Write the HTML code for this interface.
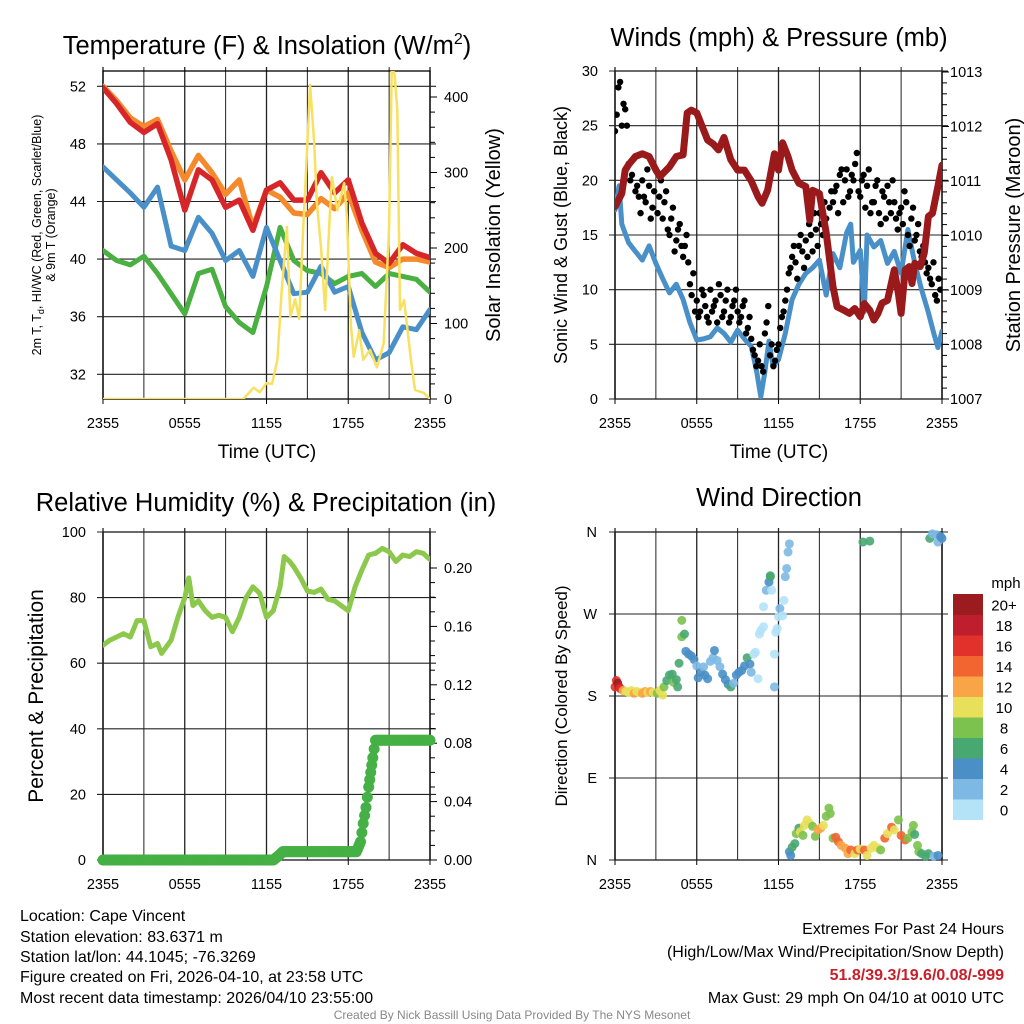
<!DOCTYPE html>
<html><head><meta charset="utf-8"><style>
html,body{margin:0;padding:0;background:#fff}
svg{display:block;font-family:"Liberation Sans",sans-serif}
</style></head><body>
<svg id="s" width="1024" height="1024" viewBox="0 0 1024 1024" xmlns="http://www.w3.org/2000/svg">
<defs>
<clipPath id="c1"><rect x="103" y="71" width="327" height="328"/></clipPath>
<clipPath id="c2"><rect x="615" y="71" width="327" height="328"/></clipPath>
<clipPath id="c3"><rect x="103" y="532" width="327" height="328"/></clipPath>
<clipPath id="c4"><rect x="610" y="525" width="340" height="340"/></clipPath>
</defs>
<g font-size="25.5" text-anchor="middle" fill="#000">
<text x="267" y="54">Temperature (F) &amp; Insolation (W/m<tspan dy="-10" font-size="16">2</tspan><tspan dy="10">)</tspan></text>
<text x="779" y="46">Winds (mph) &amp; Pressure (mb)</text>
<text x="266" y="511">Relative Humidity (%) &amp; Precipitation (in)</text>
<text x="779" y="506">Wind Direction</text>
</g>
<g font-size="19" text-anchor="middle">
<text x="267" y="458">Time (UTC)</text>
<text x="779" y="458">Time (UTC)</text>
<text transform="translate(500,235) rotate(-90)" font-size="20">Solar Insolation (Yellow)</text>
<text transform="translate(567,235) rotate(-90)" font-size="18">Sonic Wind &amp; Gust (Blue, Black)</text>
<text transform="translate(1020,235) rotate(-90)" font-size="20">Station Pressure (Maroon)</text>
<text transform="translate(43,696) rotate(-90)" font-size="21">Percent &amp; Precipitation</text>
<text transform="translate(567,696) rotate(-90)" font-size="17">Direction (Colored By Speed)</text>
<text transform="translate(41,235) rotate(-90)" font-size="12.5">2m T, T<tspan font-size="9" dy="3">d</tspan><tspan dy="-3">, HI/WC (Red, Green, Scarlet/Blue)</tspan></text>
<text transform="translate(55,235) rotate(-90)" font-size="12.5">&amp; 9m T (Orange)</text>
</g>
<g font-size="16" fill="#000">
<text x="20" y="921">Location: Cape Vincent</text>
<text x="20" y="942">Station elevation: 83.6371 m</text>
<text x="20" y="962">Station lat/lon: 44.1045; -76.3269</text>
<text x="20" y="982">Figure created on Fri, 2026-04-10, at 23:58 UTC</text>
<text x="20" y="1003">Most recent data timestamp: 2026/04/10 23:55:00</text>
</g>
<g font-size="16" text-anchor="end">
<text x="1004" y="934">Extremes For Past 24 Hours</text>
<text x="1004" y="957">(High/Low/Max Wind/Precipitation/Snow Depth)</text>
<text x="1004" y="980" fill="#c8202a" font-weight="bold">51.8/39.3/19.6/0.08/-999</text>
<text x="1004" y="1003">Max Gust: 29 mph On 04/10 at 0010 UTC</text>
</g>
<text x="512" y="1019" font-size="12" fill="#888" text-anchor="middle">Created By Nick Bassill Using Data Provided By The NYS Mesonet</text>
</svg>
<script>
// ---- data ----
const xTickLabels = ["2355","0555","1155","1755","2355"];
const tempTicks = [32,36,40,44,48,52];
const solarTicks = [0,100,200,300,400];
const windTicks = [0,5,10,15,20,25,30];
const presTicks = [1007,1008,1009,1010,1011,1012,1013];
const rhTicks = [0,20,40,60,80,100];
const precTicks = [0,0.04,0.08,0.12,0.16,0.20];
const dirTicks = [0,90,180,270,360];
const dirLabels = ["N","E","S","W","N"];
const hourly = [0,1,2,3,4,5,6,7,8,9,10,11,12,13,14,15,16,17,18,19,20,21,22,23,24];
const tempRed = [51.9,50.8,49.5,48.8,49.4,46.9,43.4,46.2,45.5,43.6,44.1,42.0,44.8,45.3,44.1,44.1,46.0,44.6,45.5,42.5,40.4,39.7,41.0,40.4,40.1];
const tempOrange = [52.0,51.0,49.8,49.2,49.7,47.5,45.5,47.2,46.0,44.5,45.5,42.2,44.8,44.3,43.2,43.1,44.2,43.5,44.6,42.0,39.8,39.4,40.0,40.0,39.8];
const tempBlue = [46.4,45.5,44.6,43.6,45.0,40.9,40.6,42.9,41.8,39.9,40.6,38.8,42.2,39.9,37.6,37.7,39.5,37.7,38.1,34.9,33.0,33.5,35.3,35.1,36.5];
const tempGreen = [40.6,39.9,39.6,40.2,39.0,37.6,36.2,39.0,39.3,36.7,35.6,34.9,38.1,42.2,39.9,39.2,39.0,38.3,38.8,39.0,38.1,39.0,38.8,38.6,37.7];
const solarHours = [0,10.3,11.05,11.5,12.0,12.4,12.8,13.1,13.5,13.75,14.1,14.4,14.7,15.0,15.2,15.5,15.7,16.0,16.3,16.6,16.8,17.2,17.7,17.9,18.2,18.4,18.8,19.1,19.6,20.1,20.6,21.0,21.2,21.4,21.6,21.8,22.1,22.6,22.9,23.55,24];
const solarVals = [0,0,15,9,21,20,52,140,228,109,132,106,228,339,416,339,259,201,118,228,294,250,286,241,96,56,91,52,65,42,74,228,440,430,383,118,131,52,12,8,0];
const windHours = [0,0.3,0.5,1,1.5,2,2.5,3,3.5,4,4.5,5,5.5,6,6.5,7,7.5,8,8.5,9,9.5,10,10.4,10.7,11,11.3,11.6,12,12.5,13,13.5,14,14.5,15,15.5,16,16.5,17,17.3,17.5,18,18.3,18.5,19,19.5,20,20.5,21,21.5,22,22.5,23,23.4,23.7,24];
const windVals = [17.3,19.5,16,14.3,13.5,12.7,14,12.4,11,9.7,10.5,9.1,7,5.4,5.5,5.7,6.5,6.0,5.2,6.3,5.5,4.8,2.5,0.2,2.5,5.3,3,3.6,6,9.1,10.5,11.5,12,12.7,9.5,13.3,12,15.2,16,12.5,13.6,8,15,13.9,14.5,12.4,13.5,11.5,15.5,12.4,10,7.9,6,4.7,6.2];
const gustVals = [24.5,28.5,25,26.5,21.5,20.5,19,18.5,20,18,19.5,17.5,21,18.5,16.5,19,15,17.5,14.5,16,13,15,10.5,11.5,9,8,9.5,7.5,10,8.5,7,9.5,8,10,7.5,9,8,7.5,9,6.5,5.5,4,3.5,3,6,8.5,5,3.5,5,7.5,9,11.5,13,12.5,14,13.5,14.5,16,13.5,15.5,17,15,16.5,17.5,18,19.5,20.5,18,21,19,20,22.5,18.5,20.5,19.5,17,18,20,16,18.5,19.5,17,18,15.5,17.5,19,15,16.5,14.5,16,13,12.5,12,10.5,9.5,11,10];
const gustVals2 = [26,29,27,25,20,22,19.5,17,18.5,21,16.5,19,17,20,18,15.5,16.5,13.5,15.5,14,14,12.5,9.5,8,7.5,10,8.5,7,8,9,10.5,7.5,9,7,8.5,10,7,8.5,6,7.5,4.5,3,5,2.5,7,4,3,4.5,6.5,8,10,12,14,11,15,12,13,15,17,14,16,18,14,19,19,17,21,20,18.5,20.5,21.5,19,20,17.5,21,18,19.5,17,19,16.5,18,20,16.5,17,16,18,14,17.5,15,13.5,14,11.5,11,12.5,9,10];
const presHours = [0,0.5,0.75,1,1.5,2,2.5,3,3.3,4,4.5,5,5.3,5.6,6,6.4,6.8,7.2,7.6,8,8.5,9,9.5,10,10.5,10.8,11.2,11.7,12,12.3,12.7,13,13.5,14,14.3,14.5,15,15.5,16,16.3,16.8,17.2,17.6,18,18.3,18.7,19,19.3,19.6,20,20.5,20.8,21,21.3,21.6,21.8,22,22.4,22.7,23,23.3,23.7,24];
const presVals = [1010.53,1010.77,1011.2,1011.3,1011.45,1011.5,1011.45,1011.2,1011.08,1011.26,1011.45,1011.48,1012.25,1012.3,1012.25,1012.0,1011.75,1011.68,1011.57,1011.8,1011.39,1011.2,1011.2,1011.0,1010.71,1010.59,1010.83,1011.5,1011.2,1011.7,1011.45,1011.2,1010.96,1010.9,1010.28,1010.83,1010.77,1010.05,1009.06,1008.69,1008.63,1008.57,1008.66,1008.51,1008.75,1008.63,1008.45,1008.57,1008.76,1008.81,1009.37,1008.93,1008.57,1009.37,1009.43,1009.12,1009.49,1009.43,1009.68,1010.35,1010.41,1010.9,1011.29];
const rhHours = [0,0.5,1,1.5,2,2.5,3,3.5,4,4.3,5,5.5,6,6.3,6.6,7,7.5,8,8.5,9,9.5,10,10.5,11,11.5,12,12.5,13,13.3,13.7,14,14.5,15,15.5,16,16.5,17,17.5,18,18.5,19,19.5,20,20.5,21,21.5,22,22.5,23,23.5,24];
const rhVals = [65.5,67,68,69,68,73,73,65,66,63,67,74,80,86,77.6,79,76,74,74.6,74,69.6,74,80,83.3,81.3,74,76,83.3,92.5,91,89.4,86,82,81.6,82.6,79.5,79,77.5,76,83.3,88.4,93,93.5,95,94,91,93,92.5,94,93.5,91.6];
const precHours = [0,12.5,12.9,13.2,18.6,18.9,19.1,19.3,19.5,19.65,19.8,20.0,24];
const precVals = [0,0,0.003,0.0057,0.0057,0.0125,0.025,0.036,0.05,0.06,0.07,0.082,0.082];
const dirHours = [0.0,0.1,0.2,0.3,0.4,0.6,0.8,1.0,1.2,1.4,1.6,1.8,2.0,2.2,2.4,2.6,2.8,3.1,3.3,3.5,3.6,3.8,4.0,4.2,4.3,4.5,4.6,4.7,4.9,4.9,5.1,5.2,5.4,5.6,5.8,6.0,6.1,6.3,6.5,6.6,6.8,7.0,7.2,7.3,7.5,7.7,7.9,8.1,8.3,8.5,8.7,8.9,9.1,9.3,9.5,9.7,9.9,10.0,10.2,10.3,10.5,10.6,10.7,10.9,10.9,11.1,11.3,11.4,11.4,11.5,11.7,11.7,11.8,11.9,12.0,12.1,12.3,12.4,12.5,12.6,12.7,12.8,
 12.8,12.9,13.0,13.2,13.3,13.5,13.6,13.8,13.9,14.1,14.3,14.5,14.7,14.9,15.1,15.3,15.5,15.7,15.8,16.0,16.2,16.4,16.6,16.9,17.1,17.3,17.6,17.8,18.0,18.3,18.5,18.8,19.0,19.3,19.5,19.8,20.0,20.3,20.5,20.8,21.0,21.3,21.5,21.8,21.9,22.0,22.2,22.3,22.5,22.8,23.0,23.4,23.7,
 18.2,18.7,23.1,23.3,23.6,23.7,23.9,24.0];
const dirDegs = [190,197,194,190,188,186,185,184,186,183,185,184,183,185,184,185,184,183,186,181,190,197,203,204,195,198,190,216,263,245,248,229,226,224,220,213,200,206,212,203,199,218,222,230,219,212,204,198,193,190,194,203,206,208,213,222,215,206,226,228,199,248,252,256,278,296,305,311,312,296,226,190,250,254,267,276,268,285,311,320,338,347,
 9,5,14,18,29,35,31,27,38,44,40,37,26,33,35,38,48,57,51,24,25,20,16,13,7,11,7,11,12,11,5,13,16,13,11,24,29,36,33,44,27,22,24,31,38,28,16,9,7,4,7,4,5,
 349,350,353,358,357,349,355,353];
const dirSpeeds = [17,17,20,19,17,13,11,11,11,13,11,11,13,13,11,13,11,9,11,11,9,7,7,7,9,7,7,7,9,9,7,5,5,5,5,3,5,5,3,5,5,3,3,5,3,3,5,5,5,7,3,5,5,5,5,7,5,3,1.5,1.5,0.5,1.5,1.5,1.5,1.5,3,5,7,7,1.5,1.5,3,1.5,1.5,1.5,3,1.5,1.5,3,3,3,3,
 5,5,7,7,9,7,11,9,11,11,11,9,9,13,13,11,9,9,9,9,15,15,13,13,13,15,11,15,11,15,11,11,11,11,9,15,11,15,11,9,15,15,9,9,9,7,9,9,7,7,7,3,5,
 7,7,7,3,3,3,5,5];
const cbLabels = ["0","2","4","6","8","10","12","14","16","18","20+"];
const cbColors = ["#b4e2f7","#7db9e4","#4a8fc6","#48a871","#7bc24e","#e8e05a","#f9a446","#f26430","#e0312a","#bf1e2e","#9b1b1e"];

// ---- helpers ----
const NS="http://www.w3.org/2000/svg";
const svg=document.getElementById('s');
function mk(tag,attrs,parent){const e=document.createElementNS(NS,tag);for(const k in attrs)e.setAttribute(k,attrs[k]);(parent||svg).appendChild(e);return e;}
function lin(d0,d1,r0,r1){return v=>r0+(v-d0)*(r1-r0)/(d1-d0);}

const P1={x0:103,x1:430,y0:71,y1:399};
const P2={x0:615,x1:942,y0:71,y1:399};
const P3={x0:103,x1:430,y0:532,y1:860};
const P4={x0:615,x1:942,y0:532,y1:860};
const xs1=lin(0,24,P1.x0,P1.x1), xs2=lin(0,24,P2.x0,P2.x1);
const yTemp=lin(52,32,86.3,374.3), ySolar=lin(0,400,399,97);
const yWind=lin(0,30,399,71), yPres=lin(1007,1013,399,72);
const yRH=lin(0,100,860,532), yPrec=lin(0,0.2,860,568);
const yDir=lin(0,360,860,532);

function frame(P,name,xs){
  const g=mk('g',{});
  
  
  for(let h=0;h<=24;h+=3){const x=xs(h);
    const l=mk('line',{x1:x,x2:x,y1:P.y0-4,y2:P.y1,stroke:'#222','stroke-width':h%6===0?1.3:1},g);
    
    }
  const r=mk('rect',{x:P.x0,y:P.y0,width:P.x1-P.x0,height:P.y1-P.y0,fill:'none',stroke:'#000','stroke-width':1.3},g);
  
  
  xTickLabels.forEach((t,i)=>{const x=xs(i*6);
    mk('line',{x1:x,x2:x,y1:P.y1,y2:P.y1+5,stroke:'#000'},g);
    const tx=mk('text',{x:x,y:P.y1+29,'font-size':14.5,'text-anchor':'middle'},g);tx.textContent=t;
    
    });
  return g;
}
function hgrid(P,vals,ys,g){vals.forEach(v=>{const y=ys(v);const l=mk('line',{x1:P.x0-6,x2:P.x1+6,y1:y,y2:y,stroke:'#222','stroke-width':1.1},g);
  
  });}
function yLabels(vals,ys,x,anchor,fmt,name){vals.forEach(v=>{const t=mk('text',{x:x,y:ys(v)+5,'font-size':14.5,'text-anchor':anchor});t.textContent=fmt(v);
  
  });}
function minor(P,vals,ys,step){for(let i=0;i<vals.length-1;i++){for(let v=vals[i]+step;v<vals[i+1]-step/2;v+=step){const y=ys(v);mk('line',{x1:P.x1,x2:P.x1+5,y1:y,y2:y,stroke:'#000'});}}}
function path(xh,yv,xs,ys,color,w,clip,name){
  let d='';xh.forEach((h,i)=>{d+=(i?'L':'M')+xs(h).toFixed(1)+','+ys(yv[i]).toFixed(1);});
  const p=mk('path',{d:d,fill:'none',stroke:color,'stroke-width':w,'stroke-linejoin':'round','stroke-linecap':'round','clip-path':'url(#'+clip+')'});
  
  
  return p;
}

// ---- panel 1 ----
const g1=frame(P1,'temp-panel',xs1);hgrid(P1,tempTicks,yTemp,g1);
yLabels(tempTicks,yTemp,86,'end',v=>v,'temp-tick-label');
yLabels(solarTicks,ySolar,444,'start',v=>v,'solar-tick-label');
solarTicks.forEach(v=>{const y=ySolar(v);mk('line',{x1:P1.x1,x2:P1.x1+7,y1:y,y2:y,stroke:'#000'});});
minor(P1,solarTicks,ySolar,20);
path(hourly,tempOrange,xs1,yTemp,'#f58a2c',5.5,'c1','series-9m-temp');
path(hourly,tempRed,xs1,yTemp,'#d6262a',5.5,'c1','series-2m-temp');
path(hourly,tempGreen,xs1,yTemp,'#4bb042',5,'c1','series-dewpoint');
path(hourly,tempBlue,xs1,yTemp,'#4a90c8',5,'c1','series-windchill');
path(solarHours,solarVals,xs1,ySolar,'#f8e060',2.5,'c1','series-solar');

// ---- panel 2 ----
const g2=frame(P2,'winds-panel',xs2);hgrid(P2,windTicks,yWind,g2);
yLabels(windTicks,yWind,598,'end',v=>v,'wind-tick-label');
yLabels(presTicks,yPres,950,'start',v=>v,'pressure-tick-label');
presTicks.forEach(v=>{const y=yPres(v);mk('line',{x1:P2.x1,x2:P2.x1+7,y1:y,y2:y,stroke:'#000'});});
minor(P2,presTicks,yPres,0.2);
path(windHours,windVals,xs2,yWind,'#4a90c8',5,'c2','series-wind-speed');
const gg=mk('g',{'clip-path':'url(#c2)'});


gustVals.forEach((v,i)=>{const c=mk('circle',{cx:xs2(i*0.25),cy:yWind(v),r:3.2,fill:'#000'},gg);
  
  });
gustVals2.forEach((v,i)=>{const c=mk('circle',{cx:xs2(i*0.25+0.125),cy:yWind(v),r:3.2,fill:'#000'},gg);
  
  });
path(presHours,presVals,xs2,yPres,'#9a1a1c',7,'c2','series-pressure');

// ---- panel 3 ----
const g3=frame(P3,'humidity-panel',xs1);hgrid(P3,rhTicks,yRH,g3);
yLabels(rhTicks,yRH,86,'end',v=>v,'rh-tick-label');
yLabels(precTicks,yPrec,444,'start',v=>v.toFixed(2),'precip-tick-label');
precTicks.forEach(v=>{const y=yPrec(v);mk('line',{x1:P3.x1,x2:P3.x1+7,y1:y,y2:y,stroke:'#000'});});
minor(P3,precTicks,yPrec,0.01);
path(rhHours,rhVals,xs1,yRH,'#8cc84b',5,'c3','series-humidity');
const gp=mk('g',{});


for(let i=0;i<precHours.length-1;i++){
  const n=Math.max(1,Math.round((precHours[i+1]-precHours[i])*12));
  for(let k=0;k<n;k++){const f=k/n;const h=precHours[i]+f*(precHours[i+1]-precHours[i]);const v=precVals[i]+f*(precVals[i+1]-precVals[i]);
    const c=mk('circle',{cx:xs1(h),cy:yPrec(v),r:5.5,fill:'#45b045'},gp);
    
    }}
{const c=mk('circle',{cx:xs1(24),cy:yPrec(precVals[precVals.length-1]),r:5.5,fill:'#45b045'},gp);
 
 }

// ---- panel 4 ----
const g4=frame(P4,'direction-panel',xs2);hgrid(P4,dirTicks,yDir,g4);
dirTicks.forEach((v,i)=>{const t=mk('text',{x:597,y:yDir(v)+5,'font-size':14.5,'text-anchor':'end'});t.textContent=dirLabels[i];
  
  });
const gd=mk('g',{'clip-path':'url(#c4)'});


dirHours.forEach((h,i)=>{const b=Math.min(10,Math.floor(dirSpeeds[i]/2));
  const c=mk('circle',{cx:xs2(h),cy:yDir(dirDegs[i]),r:4.5,fill:cbColors[b],'fill-opacity':0.9},gd);
  
  });
// colorbar
const gc=mk('g',{});


const cbTop=594,cbH=20.5;
cbColors.forEach((col,i)=>{const y=cbTop+(10-i)*cbH;
  const r=mk('rect',{x:953,y:y,width:30,height:cbH+0.5,fill:col},gc);
  
  
  const t=mk('text',{x:1004,y:y+cbH/2+6,'font-size':15,'text-anchor':'middle'},gc);t.textContent=cbLabels[i];
  
  });
{const t=mk('text',{x:1006,y:588,'font-size':15,'text-anchor':'middle'},gc);t.textContent='mph';
 
 }
</script>
</body></html>
